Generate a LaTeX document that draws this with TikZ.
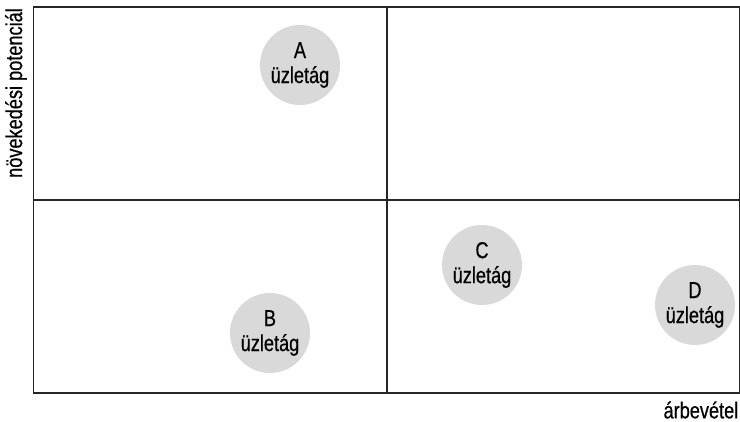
\documentclass[tikz,border=0pt]{standalone}
\usepackage{fontspec}
\setmainfont{Liberation Sans}[FakeStretch=0.79,FakeBold=0.6]
\begin{document}
\begin{tikzpicture}[x=1pt,y=1pt,
  frame/.style={line width=1.4pt,draw=black!85},
  unit/.style={circle,fill=black!15,draw=none,minimum size=80pt,inner sep=0pt,align=center,
    font=\fontsize{23}{25}\selectfont},
  axislabel/.style={font=\fontsize{23}{25}\selectfont,inner sep=0pt}]
\useasboundingbox (0,0) rectangle (740,422);
\coordinate (tl) at (33.5,415);
\coordinate (br) at (739.5,29);
\coordinate (mt) at (387,415);
\coordinate (mb) at (387,29);
\coordinate (ml) at (33.5,222);
\coordinate (mr) at (739.5,222);
\draw[frame] (tl) rectangle (br);
\draw[frame] (mt) -- (mb);
\draw[frame] (ml) -- (mr);
\node[unit] (A) at (300,357) {A\\üzletág};
\node[unit] (B) at (270,89) {B\\üzletág};
\node[unit] (C) at (482,157) {C\\üzletág};
\node[unit] (D) at (695,117) {D\\üzletág};
\node[axislabel,rotate=90,anchor=center] (ylab) at (16,329) {növekedési potenciál};
\node[axislabel,anchor=east] (xlab) at (738.5,12) {árbevétel};
\end{tikzpicture}
\end{document}
